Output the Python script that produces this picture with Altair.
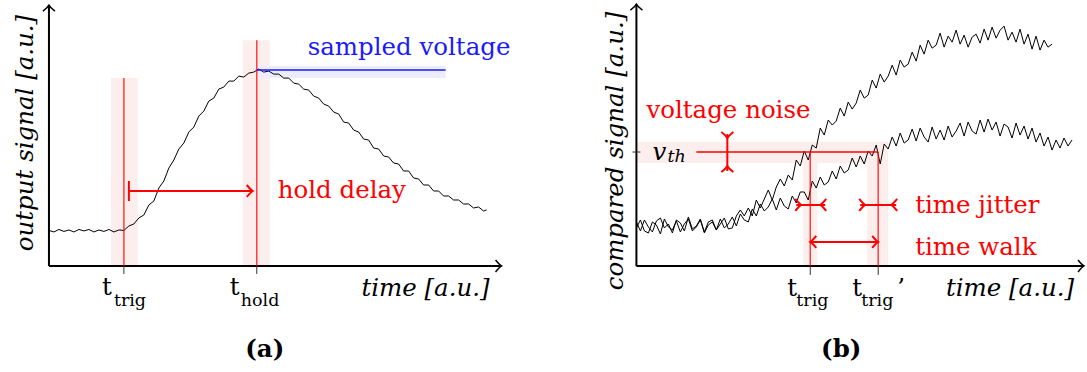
import altair as alt
import pandas as pd

# ---------------- data (arbitrary units) ----------------
# panel (a): shaped output signal
a_time = [0, 5, 10, 15, 20, 25, 30, 35, 40, 45, 50, 55, 60, 65, 70, 75, 80, 85, 90, 95,
          100, 105, 110, 115, 120, 125, 130, 135, 140, 145, 150, 155, 160, 165, 170, 175,
          180, 185, 190, 195, 200, 205, 210, 215, 220, 225, 230, 235, 240, 245, 250, 255,
          260, 265, 270, 275, 280, 285, 290, 295, 300, 305, 310, 315, 320, 325, 330, 335,
          340, 345, 350, 355, 360, 365, 370, 375, 380, 385, 390, 395, 400, 405, 410, 415,
          420, 425, 430, 435, 438]
a_signal = [35.5, 34, 36.5, 34.5, 36, 34, 36.5, 35, 36.5, 34, 36, 34.5, 36.5, 34, 36, 35.5, 40, 42, 48, 51,
            61, 65, 78, 85, 98, 106, 117, 123, 134, 139, 150, 155, 165, 168, 177, 179,
            185, 185, 190, 189, 193, 194, 197, 194, 195, 192, 192, 188, 188, 183, 182, 177,
            176, 170, 168, 162, 160, 154, 152, 144, 143, 136, 134, 127, 126, 118, 117, 110,
            109, 103, 102, 95, 95, 88, 87, 81, 81, 75, 75, 70, 70, 66, 66, 62,
            62, 58, 59, 55, 56]

# panel (b): two compared signals (fast and slow rise)
b_time_fast = list(range(0, 417, 4))
b_signal_fast = [44, 35, 46, 39, 34, 45, 48, 38, 42, 33,
                 46, 43, 35, 49, 37, 40, 47, 34, 44, 46,
                 36, 42, 48, 37, 38, 50, 56, 50, 58, 50,
                 66, 58, 67, 76, 66, 79, 87, 80, 91, 86,
                 106, 100, 115, 106, 121, 118, 138, 131, 146, 141,
                 145, 158, 150, 164, 157, 163, 176, 168, 171, 186,
                 178, 192, 184, 190, 201, 191, 206, 199, 202, 214,
                 205, 221, 212, 226, 218, 221, 233, 219, 230, 224,
                 236, 222, 231, 219, 229, 232, 223, 237, 226, 239,
                 228, 236, 240, 226, 234, 224, 237, 222, 232, 217,
                 230, 216, 226, 219, 222]
b_time_slow = list(range(0, 437, 4))
b_signal_slow = [38, 46, 35, 33, 44, 41, 32, 47, 39, 36,
                 45, 34, 42, 47, 35, 39, 46, 33, 41, 44,
                 36, 47, 38, 42, 49, 40, 52, 46, 44, 57,
                 50, 62, 55, 59, 67, 56, 68, 60, 57, 70,
                 63, 74, 74, 66, 85, 78, 89, 81, 84, 95,
                 87, 100, 93, 96, 108, 99, 110, 102, 115, 110,
                 121, 102, 122, 117, 129, 120, 133, 123, 126, 137,
                 125, 138, 129, 124, 139, 127, 136, 126, 140, 129,
                 135, 143, 130, 144, 135, 132, 146, 134, 147, 136,
                 144, 130, 142, 139, 128, 143, 131, 140, 127, 138,
                 124, 133, 120, 129, 116, 126, 118, 128, 120, 126]

# key times / levels
a_t_trig, a_t_hold = 75, 208
a_sampled = 196
b_t_trig, b_t_trig2 = 174, 242
b_v_th = 114

FONT = "DejaVu Serif"
RED = "#ff0000"
BLUE = "#1a1aff"
BLACK = "#000000"
PINK = "#fdeeee"
PALEBLUE = "#ececfc"
FS = 24.5
FS_SUB = 17.5

# arrow-tip / cap shapes (vertex at origin)
TIP_RIGHT = "M-1,-1 Q-0.35,-0.2 0,0 Q-0.35,0.2 -1,1"
TIP_LEFT = "M1,-1 Q0.35,-0.2 0,0 Q0.35,0.2 1,1"
TIP_UP = "M-1,1 Q-0.2,0.35 0,0 Q0.2,0.35 1,1"
TIP_DOWN = "M-1,-1 Q-0.2,-0.35 0,0 Q0.2,-0.35 1,-1"

Y_DOM = [-109, 263]
A_X_DOM = [-49, 494]
B_X_DOM = [-94, 450]


def xs(dom):
    return alt.X("t:Q", scale=alt.Scale(domain=dom, nice=False, zero=False), axis=None)


def ys():
    return alt.Y("v:Q", scale=alt.Scale(domain=Y_DOM, nice=False, zero=False), axis=None)


def segs(rows, dom, color, width, opacity=1.0):
    df = pd.DataFrame(rows, columns=["t", "v", "t2", "v2"])
    return alt.Chart(df).mark_rule(color=color, strokeWidth=width, opacity=opacity).encode(
        x=xs(dom), y=ys(), x2="t2:Q", y2="v2:Q")


def boxes(rows, dom, color):
    df = pd.DataFrame(rows, columns=["t", "v", "t2", "v2"])
    return alt.Chart(df).mark_rect(color=color).encode(
        x=xs(dom), y=ys(), x2="t2:Q", y2="v2:Q")


def tips(rows, dom, width):
    df = pd.DataFrame(rows, columns=["t", "v", "shape", "color"])
    return alt.Chart(df).mark_point(filled=False, opacity=1, strokeWidth=width, size=144).encode(
        x=xs(dom), y=ys(),
        shape=alt.Shape("shape:N", scale=None),
        color=alt.Color("color:N", scale=None))


def texts(rows, dom, **props):
    df = pd.DataFrame(rows, columns=["label", "t", "v", "color", "fs"])
    return alt.Chart(df).mark_text(font=FONT, baseline="alphabetic", **props).encode(
        x=xs(dom), y=ys(), text="label:N",
        color=alt.Color("color:N", scale=None),
        size=alt.Size("fs:Q", scale=None))


def curve(times, values, dom):
    df = pd.DataFrame({"t": times, "v": values})
    return alt.Chart(df).mark_line(color=BLACK, strokeWidth=1).encode(x=xs(dom), y=ys(), order="t:Q")


# ---------------- panel (a) ----------------
A = A_X_DOM
panel_a = alt.layer(
    boxes([(62, 0, 89, 188), (194, 0, 221, 226)], A, PINK),
    boxes([(a_t_hold, 188, 397, 200)], A, PALEBLUE),
    curve(a_time, a_signal, A),
    segs([(0, 0, 0, 261), (0, 0, 453, 0)], A, BLACK, 2),
    segs([(a_t_trig, 0, a_t_trig, -8), (a_t_hold, 0, a_t_hold, -8)], A, "#333333", 1),
    segs([(a_t_trig, 0, a_t_trig, 188), (a_t_hold, 0, a_t_hold, 226)], A, RED, 1.5, 0.75),
    segs([(a_t_hold, a_sampled, 397, a_sampled)], A, BLUE, 1.5),
    segs([(80, 75, 204, 75), (80, 65, 80, 85)], A, RED, 2),
    tips([(0, 261, TIP_UP, BLACK), (453, 0, TIP_RIGHT, BLACK)], A, 1.5),
    tips([(204, 75, TIP_RIGHT, RED)], A, 2),
    texts([("sampled voltage", 259, 211, BLUE, FS), ("hold delay", 229, 68, RED, FS),
           ("t", 53, -29, BLACK, FS), ("trig", 65, -40, BLACK, FS_SUB),
           ("t", 181, -29, BLACK, FS), ("hold", 192, -40, BLACK, FS_SUB)], A, align="left"),
    texts([("time [a.u.]", 441, -30, BLACK, FS)], A, align="right", fontStyle="italic"),
    texts([("output signal [a.u.]", -16, 133, BLACK, FS)], A, align="center",
          fontStyle="italic", angle=270),
    texts([("(a)", 216, -91, BLACK, FS)], A, align="center", fontWeight="bold"),
).properties(width=543, height=372)

# ---------------- panel (b) ----------------
B = B_X_DOM
panel_b = alt.layer(
    boxes([(0, 103, 252, 124), (167, 0, 181, 103), (231, 0, 252, 103)], B, PINK),
    curve(b_time_fast, b_signal_fast, B),
    curve(b_time_slow, b_signal_slow, B),
    segs([(0, 0, 0, 262), (0, 0, 448, 0)], B, BLACK, 2),
    segs([(b_t_trig, 0, b_t_trig, -9), (b_t_trig2, 0, b_t_trig2, -9), (-4, b_v_th, 4, b_v_th)],
         B, "#333333", 1),
    segs([(b_t_trig, 0, b_t_trig, b_v_th), (b_t_trig2, 0, b_t_trig2, b_v_th)], B, RED, 1.5, 0.75),
    segs([(60, b_v_th, b_t_trig2, b_v_th)], B, RED, 1.5),
    segs([(91, 95, 91, 132), (160, 61, 189, 61), (224, 61, 260, 61),
          (b_t_trig, 24, b_t_trig2, 24)], B, RED, 2),
    tips([(0, 262, TIP_UP, BLACK), (448, 0, TIP_RIGHT, BLACK)], B, 1.5),
    tips([(91, 128, TIP_DOWN, RED), (91, 100, TIP_UP, RED),
          (165, 61, TIP_RIGHT, RED), (184, 61, TIP_LEFT, RED),
          (229, 61, TIP_RIGHT, RED), (255, 61, TIP_LEFT, RED),
          (b_t_trig, 24, TIP_LEFT, RED), (b_t_trig2, 24, TIP_RIGHT, RED)], B, 2),
    texts([("voltage noise", 10, 148, RED, FS), ("time jitter", 279, 53, RED, FS),
           ("time walk", 279, 11, RED, FS),
           ("t", 151, -30, BLACK, FS), ("trig", 160, -40, BLACK, FS_SUB),
           ("t", 216, -30, BLACK, FS), ("trig", 225, -40, BLACK, FS_SUB),
           ("\u2019", 261, -30, BLACK, FS)], B, align="left"),
    texts([("v", 16, 106, BLACK, FS), ("th", 31, 104, BLACK, FS_SUB)], B, align="left",
          fontStyle="italic"),
    texts([("time [a.u.]", 438, -30, BLACK, FS)], B, align="right", fontStyle="italic"),
    texts([("compared signal [a.u.]", -13, 115, BLACK, FS)], B, align="center",
          fontStyle="italic", angle=270),
    texts([("(b)", 205, -91, BLACK, FS)], B, align="center", fontWeight="bold"),
).properties(width=544, height=372)

chart = alt.hconcat(panel_a, panel_b, spacing=0, bounds="flush").properties(
    padding=0
).configure_view(strokeWidth=0)

chart.save("out.html", embed_options={"renderer": "svg", "actions": False})
